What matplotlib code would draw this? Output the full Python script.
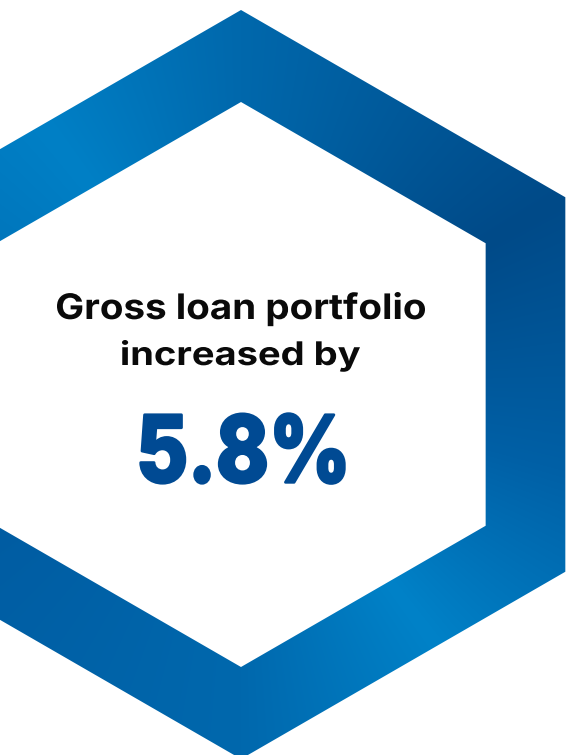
import numpy as np
import matplotlib
matplotlib.use("Agg")
import matplotlib.pyplot as plt
from matplotlib.path import Path
from matplotlib.patches import PathPatch
from matplotlib.colors import to_rgb
from matplotlib.textpath import TextPath
from matplotlib.font_manager import FontProperties
from matplotlib.transforms import Affine2D

W, H = 566, 755

# hexagon ring geometry (pixels, y grows downward)
cx, cy = 241.0, 384.5
r_outer = 374.5
r_inner = 282.5

headline = ["Gross loan portfolio", "increased by"]
growth_pct = 5.8

# colour stops around the ring: angle in degrees (counter-clockwise from +x), colour
stop_angles = [30, 90, 127, 210, 270, 307, 345, 390]
stop_colors = ["#004a88", "#0068ac", "#0080c6", "#005ca2",
               "#0068ad", "#0082c8", "#0060a6", "#004a88"]


def hexagon(r):
    ang = np.deg2rad(90 + 60 * np.arange(6))
    return np.column_stack([cx + r * np.cos(ang), cy - r * np.sin(ang)])


def fitted_text(ax, s, x0, x1, top, baseline, color, weight="bold", stroke=0.0):
    # draw s as a path stretched to span x0..x1, top..baseline
    prop = FontProperties(family="Inter", weight=weight)
    tp = TextPath((0, 0), s, size=100, prop=prop)
    ext = tp.get_extents()
    pad = stroke * 0.35
    sx = (x1 - x0 - 2 * pad) / ext.width
    sy = (baseline - top - 2 * pad) / ext.y1
    tr = (Affine2D().translate(-ext.x0, 0).scale(sx, -sy)
          .translate(x0 + pad, baseline - pad))
    ax.add_patch(PathPatch(tr.transform_path(tp), facecolor=color,
                           edgecolor=color if stroke else "none",
                           lw=stroke, joinstyle="round", zorder=3))


fig = plt.figure(figsize=(W / 100, H / 100), dpi=100)
ax = fig.add_axes([0, 0, 1, 1])
ax.set_xlim(0, W)
ax.set_ylim(H, 0)
ax.axis("off")

# angular gradient image
yy, xx = np.mgrid[0:H, 0:W] + 0.5
phi = np.degrees(np.arctan2(-(yy - cy), xx - cx))
phi = np.where(phi < 30, phi + 360, phi)
rgb = np.array([to_rgb(c) for c in stop_colors])
img = np.stack([np.interp(phi, stop_angles, rgb[:, k]) for k in range(3)], axis=-1)

im = ax.imshow(img, extent=(0, W, H, 0), interpolation="bilinear", zorder=1)

outer = hexagon(r_outer)
inner = hexagon(r_inner)[::-1]
verts = np.concatenate([outer, outer[:1], inner, inner[:1]])
codes = ([Path.MOVETO] + [Path.LINETO] * 5 + [Path.CLOSEPOLY]) * 2
ring = PathPatch(Path(verts, codes), facecolor="none", edgecolor="none")
ax.add_patch(ring)
im.set_clip_path(ring)

fitted_text(ax, headline[0], 57, 425, 292, 319, "#0a0a0a")
fitted_text(ax, headline[1], 122, 360, 340, 365, "#0a0a0a")
fitted_text(ax, f"{growth_pct}%", 140, 345, 413, 483, "#004a93",
            weight="heavy", stroke=2.0)

fig.savefig("out.png", dpi=100, facecolor="white")
